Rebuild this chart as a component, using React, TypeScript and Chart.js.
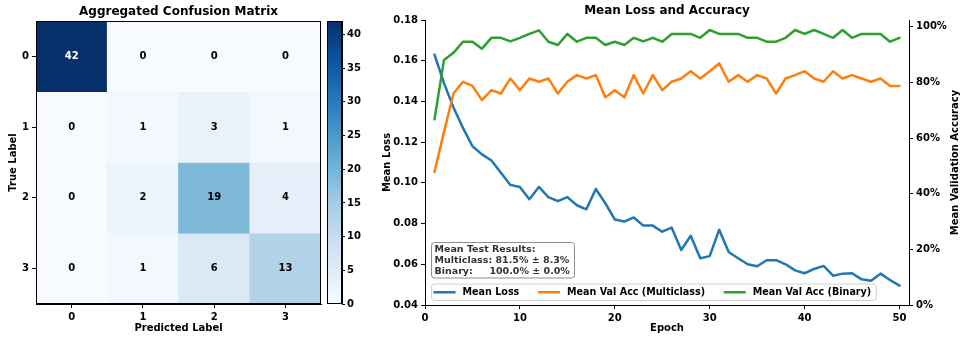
import React, { useEffect, useRef } from 'react';
import { Chart, registerables } from 'chart.js';

Chart.register(...registerables);

const FONT = '"DejaVu Sans", "Liberation Sans", sans-serif';

// ---------- Confusion matrix data ----------
const CM_TITLE = 'Aggregated Confusion Matrix';
const CM_LABELS = ['0', '1', '2', '3'];
const CM_ROW0 = [42, 0, 0, 0];
const CM_ROW1 = [0, 1, 3, 1];
const CM_ROW2 = [0, 2, 19, 4];
const CM_ROW3 = [0, 1, 6, 13];
const CM_ROWS = [CM_ROW0, CM_ROW1, CM_ROW2, CM_ROW3];
const CM_MAX = 42;
const CBAR_TICKS = [0, 5, 10, 15, 20, 25, 30, 35, 40];

// ---------- Loss / accuracy data ----------
const LINE_TITLE = 'Mean Loss and Accuracy';
const EPOCHS = [
  1, 2, 3, 4, 5, 6, 7, 8, 9, 10, 11, 12, 13, 14, 15, 16, 17, 18, 19, 20, 21, 22, 23, 24, 25,
  26, 27, 28, 29, 30, 31, 32, 33, 34, 35, 36, 37, 38, 39, 40, 41, 42, 43, 44, 45, 46, 47, 48, 49, 50,
];
const MEAN_LOSS = [
  0.163, 0.149, 0.137, 0.127, 0.118, 0.114, 0.111, 0.105, 0.099, 0.098,
  0.092, 0.098, 0.093, 0.091, 0.093, 0.089, 0.087, 0.097, 0.090, 0.082,
  0.081, 0.083, 0.079, 0.079, 0.076, 0.078, 0.067, 0.074, 0.063, 0.064,
  0.077, 0.066, 0.063, 0.060, 0.059, 0.062, 0.062, 0.060, 0.057, 0.0556,
  0.0577, 0.0592, 0.0544, 0.0554, 0.0556, 0.0526, 0.0519, 0.0554, 0.0523, 0.0495,
];
const VAL_ACC_MULTI = [
  47.8, 62.2, 76.0, 80.2, 78.7, 73.6, 77.2, 76.0, 81.4, 77.2,
  81.4, 80.2, 81.4, 76.0, 80.2, 82.6, 81.4, 82.6, 74.6, 77.2,
  74.6, 82.6, 76.0, 82.6, 77.2, 80.2, 81.4, 84.0, 81.4, 84.0,
  86.8, 80.2, 82.6, 80.2, 82.6, 81.4, 76.0, 81.4, 82.6, 84.0,
  81.4, 80.2, 84.0, 81.4, 82.6, 81.4, 80.2, 81.4, 78.7, 78.7,
];
const VAL_ACC_BINARY = [
  66.7, 88.0, 90.6, 94.6, 94.6, 92.1, 96.0, 96.0, 94.7, 96.0,
  97.4, 98.7, 94.6, 93.4, 97.4, 94.6, 96.0, 96.0, 93.4, 94.6,
  93.4, 96.0, 94.7, 96.0, 94.6, 97.4, 97.4, 97.4, 96.0, 98.8,
  97.4, 97.4, 97.4, 96.0, 96.0, 94.6, 94.6, 96.0, 98.8, 97.4,
  98.8, 97.4, 96.0, 98.8, 96.0, 97.4, 97.4, 97.4, 94.6, 96.0,
];
const SERIES_LABELS = ['Mean Loss', 'Mean Val Acc (Multiclass)', 'Mean Val Acc (Binary)'];
const SERIES_COLORS = ['#1f77b4', '#ff7f0e', '#2ca02c'];
const LOSS_TICKS = [0.04, 0.06, 0.08, 0.1, 0.12, 0.14, 0.16, 0.18];
const ACC_TICKS = [0, 20, 40, 60, 80, 100];
const EPOCH_TICKS = [0, 10, 20, 30, 40, 50];
const TEST_RESULTS = ['Mean Test Results:', 'Multiclass: 81.5% \u00b1 8.3%', 'Binary:     100.0% \u00b1 0.0%'];

// ---------- colormap (matplotlib Blues) ----------
const BLUES: [number, number, number][] = [
  [247, 251, 255], [222, 235, 247], [198, 219, 239], [158, 202, 225], [107, 174, 214],
  [66, 146, 198], [33, 113, 181], [8, 81, 156], [8, 48, 107],
];
function blues(t: number): string {
  const x = Math.max(0, Math.min(1, t)) * (BLUES.length - 1);
  const i = Math.min(BLUES.length - 2, Math.floor(x));
  const f = x - i;
  const a = BLUES[i];
  const b = BLUES[i + 1];
  const c = a.map((v, k) => Math.round(v + (b[k] - v) * f));
  return `rgb(${c[0]},${c[1]},${c[2]})`;
}

const tickFont = { family: FONT, size: 10, weight: 'bold' as const };
const fixedTicks = (values: number[]) => (scale: any) => {
  scale.ticks = values.map((v) => ({ value: v }));
};
const axisGrid = { display: true, drawOnChartArea: false, drawTicks: true, tickLength: 4, tickColor: '#000', tickWidth: 1 };
const axisBorder = { display: true, color: '#000', width: 1 };

// ---------- plugins ----------
const cmPlugin = {
  id: 'cmDecor',
  afterDatasetsDraw(chart: any) {
    const ctx = chart.ctx as CanvasRenderingContext2D;
    ctx.save();
    ctx.font = `bold 10px ${FONT}`;
    ctx.textAlign = 'center';
    ctx.textBaseline = 'middle';
    CM_ROWS.forEach((row, r) => {
      const meta = chart.getDatasetMeta(r);
      row.forEach((v, c) => {
        const el: any = meta.data[c];
        ctx.fillStyle = v > CM_MAX / 2 ? '#ffffff' : '#000000';
        ctx.fillText(String(v), el.x, (el.y + el.base) / 2);
      });
    });
    ctx.restore();
  },
  afterDraw(chart: any) {
    const ctx = chart.ctx as CanvasRenderingContext2D;
    const a = chart.chartArea;
    ctx.save();
    ctx.strokeStyle = '#000';
    ctx.lineWidth = 1;
    ctx.strokeRect(a.left + 0.5, a.top + 0.5, a.right - a.left - 1, a.bottom - a.top - 1);
    ctx.fillStyle = '#000';
    ctx.font = `bold 12px ${FONT}`;
    ctx.textAlign = 'center';
    ctx.textBaseline = 'middle';
    ctx.fillText(CM_TITLE, (a.left + a.right) / 2, 11.5);
    ctx.restore();
  },
};

const framePlugin = {
  id: 'frame',
  afterDraw(chart: any) {
    const ctx = chart.ctx as CanvasRenderingContext2D;
    const a = chart.chartArea;
    ctx.save();
    ctx.strokeStyle = '#000';
    ctx.lineWidth = 1;
    ctx.strokeRect(a.left + 0.5, a.top + 0.5, a.right - a.left - 1, a.bottom - a.top - 1);
    ctx.restore();
  },
};

const lineDecor = {
  id: 'lineDecor',
  afterDraw(chart: any) {
    const ctx = chart.ctx as CanvasRenderingContext2D;
    const a = chart.chartArea;
    ctx.save();
    ctx.fillStyle = '#000';
    ctx.textAlign = 'center';
    ctx.textBaseline = 'middle';
    ctx.font = `bold 12px ${FONT}`;
    ctx.fillText(LINE_TITLE, (a.left + a.right) / 2, 11);

    // right axis title (bottom-to-top)
    ctx.save();
    ctx.translate(a.right + 46, (a.top + a.bottom) / 2);
    ctx.rotate(-Math.PI / 2);
    ctx.font = `bold 10px ${FONT}`;
    ctx.fillText('Mean Validation Accuracy', 0, 0);
    ctx.restore();

    // text box
    const bx = a.left + 6;
    const by = a.bottom - 63;
    const bw = 143;
    const bh = 35.5;
    ctx.beginPath();
    (ctx as any).roundRect(bx + 0.5, by + 0.5, bw, bh, 3);
    ctx.fillStyle = 'rgba(255,255,255,0.85)';
    ctx.fill();
    ctx.strokeStyle = '#8c8c8c';
    ctx.lineWidth = 1;
    ctx.stroke();
    ctx.fillStyle = '#333333';
    ctx.textAlign = 'left';
    ctx.font = `bold 9.5px ${FONT}`;
    TEST_RESULTS.forEach((t, i) => ctx.fillText(t, bx + 3.5, by + 7.5 + i * 11));

    // legend
    ctx.font = `bold 9.6px ${FONT}`;
    const lx = a.left + 6;
    const ly = a.bottom - 21.5;
    const lh = 16.5;
    let x = lx + 2.5;
    const items = SERIES_LABELS.map((label, i) => {
      const it = { x, label, color: SERIES_COLORS[i] };
      x += 29 + ctx.measureText(label).width + 18.7;
      return it;
    });
    const lw = x - 18.7 + 4.5 - lx;
    ctx.beginPath();
    (ctx as any).roundRect(lx + 0.5, ly + 0.5, lw, lh, 3);
    ctx.fillStyle = 'rgba(255,255,255,0.85)';
    ctx.fill();
    ctx.strokeStyle = '#d0d0d0';
    ctx.lineWidth = 1;
    ctx.stroke();
    const cy = ly + lh / 2 + 0.5;
    items.forEach((it) => {
      ctx.strokeStyle = it.color;
      ctx.lineWidth = 2.5;
      ctx.beginPath();
      ctx.moveTo(it.x, cy);
      ctx.lineTo(it.x + 22, cy);
      ctx.stroke();
      ctx.fillStyle = '#000';
      ctx.fillText(it.label, it.x + 29, cy);
    });
    ctx.restore();
  },
};

export default function App() {
  const cmRef = useRef<HTMLCanvasElement>(null);
  const cbRef = useRef<HTMLCanvasElement>(null);
  const lnRef = useRef<HTMLCanvasElement>(null);

  useEffect(() => {
    const charts: Chart[] = [];

    // Confusion matrix as floating bars (one dataset per true label)
    charts.push(
      new Chart(cmRef.current as HTMLCanvasElement, {
        type: 'bar',
        data: {
          labels: CM_LABELS,
          datasets: CM_ROWS.map((row, r) => ({
            label: `True ${CM_LABELS[r]}`,
            data: row.map(() => [r, r + 1]),
            backgroundColor: row.map((v) => blues(v / CM_MAX)),
            borderWidth: 0,
            barPercentage: 1,
            categoryPercentage: 1,
            grouped: false,
          })),
        } as any,
        options: {
          responsive: false,
          animation: false,
          events: [],
          layout: { padding: { top: 21, right: 9, left: 0, bottom: 0 } },
          plugins: { legend: { display: false }, tooltip: { enabled: false } },
          scales: {
            x: {
              type: 'category',
              offset: true,
              grid: { ...axisGrid, offset: false },
              border: axisBorder,
              ticks: { color: '#000', font: tickFont, padding: 3, maxRotation: 0, autoSkip: false },
              title: { display: true, text: 'Predicted Label', color: '#000', font: tickFont, padding: { top: 0, bottom: 3.5 } },
              afterFit: (s: any) => { s.height = 34; },
            },
            y: {
              type: 'linear',
              min: 0,
              max: 4,
              reverse: true,
              grid: axisGrid,
              border: axisBorder,
              afterBuildTicks: fixedTicks([0.5, 1.5, 2.5, 3.5]),
              ticks: { color: '#000', font: tickFont, padding: 3, callback: (v: any) => CM_LABELS[Math.floor(Number(v))] },
              title: { display: true, text: 'True Label', color: '#000', font: tickFont, padding: { top: 7.5, bottom: 0 } },
              afterFit: (s: any) => { s.width = 36; },
            },
          },
        } as any,
        plugins: [cmPlugin],
      })
    );

    // Colorbar
    charts.push(
      new Chart(cbRef.current as HTMLCanvasElement, {
        type: 'bar',
        data: {
          labels: [''],
          datasets: [
            {
              data: [[0, CM_MAX]],
              backgroundColor: (c: any) => {
                const area = c.chart.chartArea;
                if (!area) return blues(0.5);
                const g = c.chart.ctx.createLinearGradient(0, area.bottom, 0, area.top);
                for (let i = 0; i <= 20; i++) g.addColorStop(i / 20, blues(i / 20));
                return g;
              },
              borderWidth: 0,
              barPercentage: 1,
              categoryPercentage: 1,
            },
          ],
        } as any,
        options: {
          responsive: false,
          animation: false,
          events: [],
          layout: { padding: { top: 21, left: 7, right: 0, bottom: 34 } },
          plugins: { legend: { display: false }, tooltip: { enabled: false } },
          scales: {
            x: { display: false, offset: true },
            y: {
              position: 'right',
              min: 0,
              max: CM_MAX,
              grid: { ...axisGrid, tickLength: 3 },
              border: axisBorder,
              afterBuildTicks: fixedTicks(CBAR_TICKS),
              ticks: { color: '#000', font: tickFont, padding: 2 },
              afterFit: (s: any) => { s.width = 23; },
            },
          },
        } as any,
        plugins: [framePlugin],
      })
    );

    // Loss and accuracy
    const toPts = (vals: number[]) => EPOCHS.map((e, i) => ({ x: e, y: vals[i] }));
    charts.push(
      new Chart(lnRef.current as HTMLCanvasElement, {
        type: 'line',
        data: {
          datasets: [
            { label: SERIES_LABELS[0], data: toPts(MEAN_LOSS), borderColor: SERIES_COLORS[0], yAxisID: 'y', order: 2 },
            { label: SERIES_LABELS[1], data: toPts(VAL_ACC_MULTI), borderColor: SERIES_COLORS[1], yAxisID: 'y1', order: 1 },
            { label: SERIES_LABELS[2], data: toPts(VAL_ACC_BINARY), borderColor: SERIES_COLORS[2], yAxisID: 'y1', order: 0 },
          ].map((d) => ({ ...d, borderWidth: 2.5, pointRadius: 0, tension: 0, fill: false, borderJoinStyle: 'round', borderCapStyle: 'round' })),
        } as any,
        options: {
          responsive: false,
          animation: false,
          events: [],
          layout: { padding: { top: 20, left: 0, right: 0, bottom: 0 } },
          plugins: { legend: { display: false }, tooltip: { enabled: false } },
          scales: {
            x: {
              type: 'linear',
              min: 0,
              max: 51,
              grid: axisGrid,
              border: axisBorder,
              afterBuildTicks: fixedTicks(EPOCH_TICKS),
              ticks: { color: '#000', font: tickFont, padding: 3, maxRotation: 0, autoSkip: false },
              title: { display: true, text: 'Epoch', color: '#000', font: tickFont, padding: { top: 0, bottom: 3.5 } },
              afterFit: (s: any) => { s.height = 33; },
            },
            y: {
              position: 'left',
              min: 0.04,
              max: 0.18,
              grid: axisGrid,
              border: axisBorder,
              afterBuildTicks: fixedTicks(LOSS_TICKS),
              ticks: { color: '#000', font: tickFont, padding: 3, callback: (v: any) => Number(v).toFixed(2) },
              title: { display: true, text: 'Mean Loss', color: '#000', font: tickFont, padding: { top: 11, bottom: 0 } },
              afterFit: (s: any) => { s.width = 55; },
            },
            y1: {
              position: 'right',
              min: 0,
              max: 102.4,
              grid: axisGrid,
              border: axisBorder,
              afterBuildTicks: fixedTicks(ACC_TICKS),
              ticks: { color: '#000', font: tickFont, padding: 3, callback: (v: any) => `${v}%` },
              afterFit: (s: any) => { s.width = 51; },
            },
          },
        } as any,
        plugins: [lineDecor],
      })
    );

    return () => charts.forEach((c) => c.destroy());
  }, []);

  return (
    <div style={{ position: 'absolute', left: 0, top: 0, width: 960, height: 338, background: '#fff' }}>
      <canvas ref={cmRef} width={330} height={338} style={{ position: 'absolute', left: 0, top: 0 }} />
      <canvas ref={cbRef} width={45} height={338} style={{ position: 'absolute', left: 320, top: 0 }} />
      <canvas ref={lnRef} width={590} height={338} style={{ position: 'absolute', left: 370, top: 0 }} />
    </div>
  );
}
